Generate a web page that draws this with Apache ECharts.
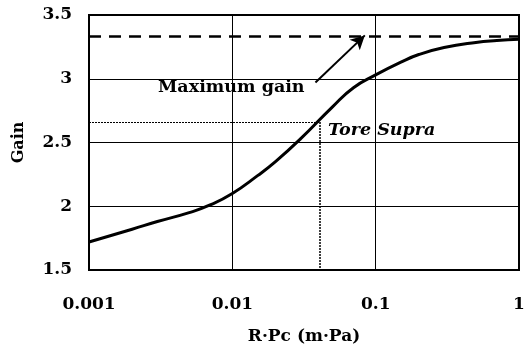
<!DOCTYPE html>
<html>
<head>
<meta charset="utf-8">
<script src="https://cdn.jsdelivr.net/npm/echarts@6/dist/echarts.min.js"></script>
<style>
  html, body { margin: 0; padding: 0; background: #fff; }
  #chart { width: 524px; height: 349px; }
</style>
</head>
<body>
<div id="chart"></div>
<script>
// Gain vs R·Pc curve --------------------------------------------
const rpc = [0.001, 0.002, 0.003, 0.005, 0.007, 0.01, 0.015, 0.02, 0.03, 0.05, 0.07, 0.1, 0.15, 0.2, 0.3, 0.5, 0.7, 1];
const gain = [1.72, 1.82, 1.88, 1.95, 2.01, 2.10, 2.24, 2.35, 2.53, 2.78, 2.93, 3.03, 3.13, 3.19, 3.245, 3.285, 3.30, 3.31];

const maxGain = 3.33;
const toreSupra = [0.041, 2.66];
const arrowFrom = [0.038, 2.97];
const arrowTo = [0.084, 3.34];

const font = '"DejaVu Serif", serif';

const chart = echarts.init(document.getElementById('chart'));

chart.setOption({
    animation: false,
    grid: {
        left: 89, right: 5, top: 15, bottom: 79,
        outerBoundsMode: 'none',
        containLabel: false,
        show: true,
        borderColor: '#000',
        borderWidth: 2
    },
    xAxis: {
        type: 'log',
        logBase: 10,
        min: 0.001,
        max: 1,
        name: 'R·Pc (m·Pa)',
        nameLocation: 'middle',
        nameGap: 58,
        nameTextStyle: {fontFamily: font, fontWeight: 'bold', fontSize: 17, color: '#000'},
        axisLine: {show: false},
        axisTick: {show: false},
        minorTick: {show: false},
        splitLine: {show: true, lineStyle: {color: '#000', width: 1}},
        axisLabel: {
            margin: 26,
            fontFamily: font, fontWeight: 'bold', fontSize: 17, color: '#000',
            formatter: v => String(v)
        }
    },
    yAxis: {
        type: 'value',
        min: 1.5,
        max: 3.5,
        interval: 0.5,
        name: 'Gain',
        nameLocation: 'middle',
        nameGap: 62,
        nameTextStyle: {fontFamily: font, fontWeight: 'bold', fontSize: 16, color: '#000'},
        axisLine: {show: false},
        axisTick: {show: false},
        splitLine: {show: true, lineStyle: {color: '#000', width: 1}},
        axisLabel: {
            margin: 17,
            fontFamily: font, fontWeight: 'bold', fontSize: 17, color: '#000',
            formatter: v => String(v)
        }
    },
    series: [
        {
            type: 'line',
            data: rpc.map((x, i) => [x, gain[i]]),
            smooth: true,
            showSymbol: false,
            lineStyle: {color: '#000', width: 3},
            markLine: {
                silent: true,
                symbol: 'none',
                label: {show: false},
                data: [
                    [{coord: [0.001, maxGain], lineStyle: {type: [12, 8], width: 2.5, color: '#000'}},
                     {coord: [1, maxGain]}],
                    [{coord: [0.001, toreSupra[1]], lineStyle: {type: [2, 1], width: 1, color: '#000'}},
                     {coord: toreSupra}],
                    [{coord: toreSupra, lineStyle: {type: [2, 1], width: 1.5, color: '#000'}},
                     {coord: [toreSupra[0], 1.5]}],
                    [{coord: arrowFrom, symbol: 'none', lineStyle: {type: 'solid', width: 2, color: '#000'}},
                     {coord: arrowTo, symbol: 'arrow', symbolSize: [11, 14]}]
                ]
            }
        }
    ],
    graphic: [
        {
            type: 'text', left: 158, top: 78,
            style: {text: 'Maximum gain', fontFamily: font, fontWeight: 'bold', fontSize: 17.5, fill: '#000'}
        },
        {
            type: 'text', left: 328, top: 121,
            style: {text: 'Tore Supra', fontFamily: font, fontStyle: 'italic', fontWeight: 'bold', fontSize: 17.5, fill: '#000'}
        }
    ]
});
</script>
</body>
</html>
